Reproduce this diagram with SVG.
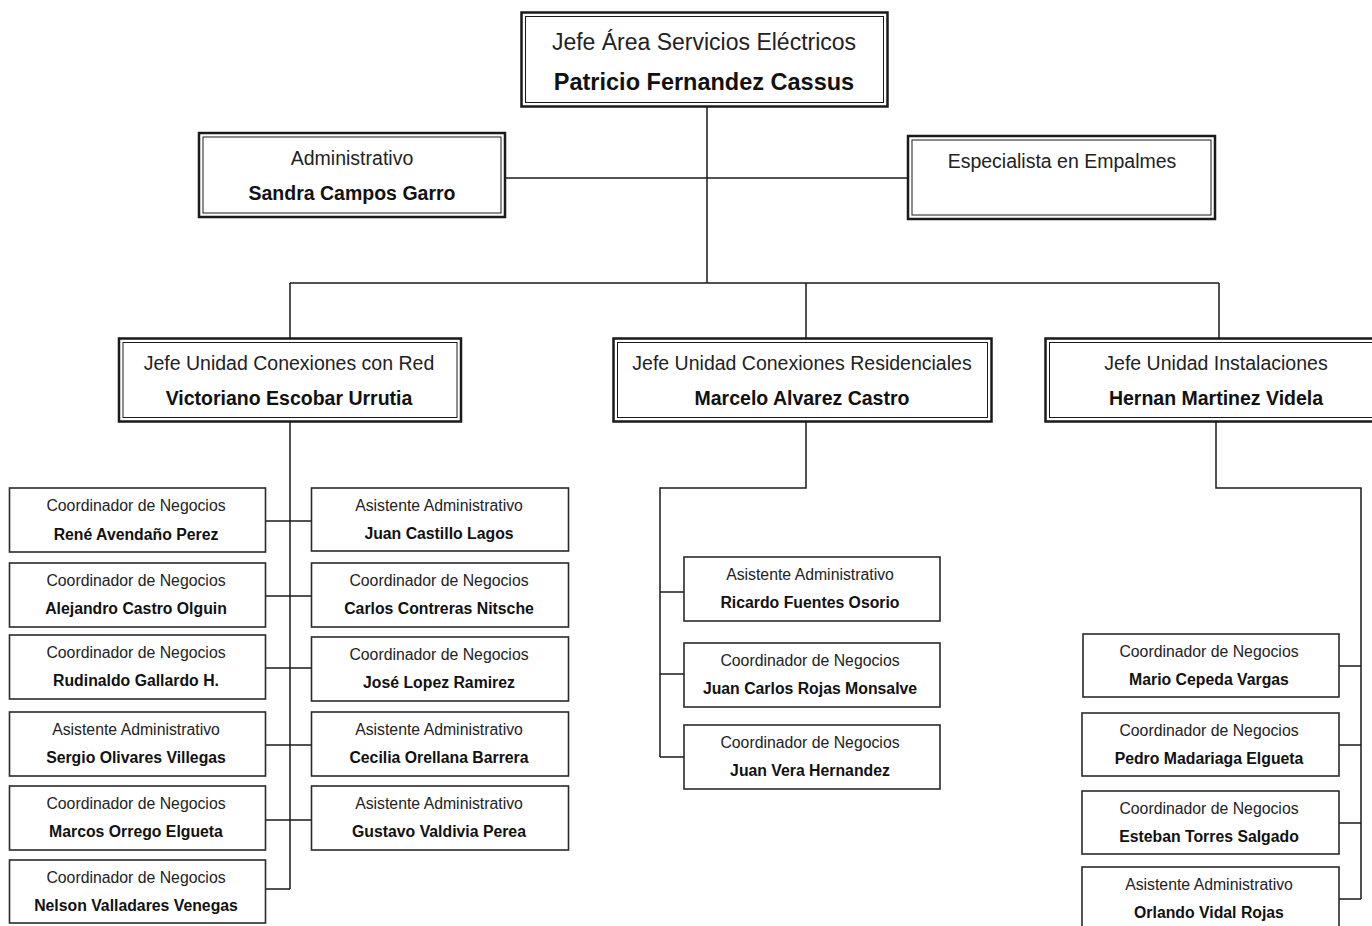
<svg xmlns="http://www.w3.org/2000/svg" width="1372" height="926" viewBox="0 0 1372 926">
<style>
.bg{fill:#ffffff}
.ob{fill:#ffffff;stroke:#1a1a1a;stroke-width:2.5}
.ib{fill:none;stroke:#1a1a1a;stroke-width:1}
.sb{fill:#ffffff;stroke:#2a2a2a;stroke-width:1.6}
.ln{fill:none;stroke:#1a1a1a;stroke-width:1.5}
text{font-family:"Liberation Sans",Arial,sans-serif;text-anchor:middle;fill:#111}
.t1{font-size:23px;fill:#222}
.n1{font-size:23.5px;font-weight:bold}
.t2{font-size:19.5px;fill:#222}
.n2{font-size:19.5px;font-weight:bold}
.t3{font-size:15.8px;fill:#222}
.n3{font-size:15.8px;font-weight:bold}
</style>
<rect class="bg" x="0" y="0" width="1372" height="926"/>
<g id="connectors">
<path class="ln" d="M707 107V283"/>
<path class="ln" d="M505 178H908"/>
<path class="ln" d="M290 283H1219M290 283V338M806 283V338M1219 283V338"/>
<path class="ln" d="M290 421V889"/>
<path class="ln" d="M265 521H311M265 596H311M265 668H311M265 745H311M265 820H311M265 889H290"/>
<path class="ln" d="M806 421V488H660V757"/>
<path class="ln" d="M660 592H684M660 674H684M660 757H684"/>
<path class="ln" d="M1216 421V488H1361V899"/>
<path class="ln" d="M1339 666H1361M1339 745H1361M1339 823H1361M1339 899H1361"/>
</g>
<g id="jefe-area">
<rect class="ob" x="521.5" y="12.5" width="366" height="94"/>
<rect class="ib" x="525.5" y="16.5" width="358" height="86"/>
<text class="t1" x="704" y="50">Jefe Área Servicios Eléctricos</text>
<text class="n1" x="704" y="90">Patricio Fernandez Cassus</text>
</g>
<g id="administrativo">
<rect class="ob" x="199" y="133" width="306" height="84"/>
<rect class="ib" x="203" y="137" width="298" height="76"/>
<text class="t2" x="352" y="165">Administrativo</text>
<text class="n2" x="352" y="200">Sandra Campos Garro</text>
</g>
<g id="especialista">
<rect class="ob" x="908" y="136" width="307" height="83"/>
<rect class="ib" x="912" y="140" width="299" height="75"/>
<text class="t2" x="1062" y="168">Especialista en Empalmes</text>
</g>
<g id="jefe-conexiones-red">
<rect class="ob" x="119" y="338.5" width="342" height="83"/>
<rect class="ib" x="123" y="342.5" width="334" height="75"/>
<text class="t2" x="289" y="370">Jefe Unidad Conexiones con Red</text>
<text class="n2" x="289" y="405">Victoriano Escobar Urrutia</text>
</g>
<g id="jefe-conexiones-residenciales">
<rect class="ob" x="613.5" y="338.5" width="378" height="83"/>
<rect class="ib" x="617.5" y="342.5" width="370" height="75"/>
<text class="t2" x="802" y="370">Jefe Unidad Conexiones Residenciales</text>
<text class="n2" x="802" y="405">Marcelo Alvarez Castro</text>
</g>
<g id="jefe-instalaciones">
<rect class="ob" x="1045.5" y="338.5" width="342" height="83"/>
<rect class="ib" x="1049.5" y="342.5" width="334" height="75"/>
<text class="t2" x="1216" y="370">Jefe Unidad Instalaciones</text>
<text class="n2" x="1216" y="405">Hernan Martinez Videla</text>
</g>
<g id="rene-avendano">
<rect class="sb" x="9.5" y="488" width="256" height="64"/>
<text class="t3" x="136" y="511">Coordinador de Negocios</text>
<text class="n3" x="136" y="540">René Avendaño Perez</text>
</g>
<g id="alejandro-castro">
<rect class="sb" x="9.5" y="563" width="256" height="64"/>
<text class="t3" x="136" y="586">Coordinador de Negocios</text>
<text class="n3" x="136" y="614">Alejandro Castro Olguin</text>
</g>
<g id="rudinaldo-gallardo">
<rect class="sb" x="9.5" y="635" width="256" height="64"/>
<text class="t3" x="136" y="658">Coordinador de Negocios</text>
<text class="n3" x="136" y="686">Rudinaldo Gallardo H.</text>
</g>
<g id="sergio-olivares">
<rect class="sb" x="9.5" y="712" width="256" height="64"/>
<text class="t3" x="136" y="735">Asistente Administrativo</text>
<text class="n3" x="136" y="763">Sergio Olivares Villegas</text>
</g>
<g id="marcos-orrego">
<rect class="sb" x="9.5" y="786" width="256" height="64"/>
<text class="t3" x="136" y="809">Coordinador de Negocios</text>
<text class="n3" x="136" y="837">Marcos Orrego Elgueta</text>
</g>
<g id="nelson-valladares">
<rect class="sb" x="9.5" y="860" width="256" height="63"/>
<text class="t3" x="136" y="883">Coordinador de Negocios</text>
<text class="n3" x="136" y="911">Nelson Valladares Venegas</text>
</g>
<g id="juan-castillo">
<rect class="sb" x="311.5" y="488" width="257" height="63"/>
<text class="t3" x="439" y="511">Asistente Administrativo</text>
<text class="n3" x="439" y="539">Juan Castillo Lagos</text>
</g>
<g id="carlos-contreras">
<rect class="sb" x="311.5" y="563" width="257" height="64"/>
<text class="t3" x="439" y="586">Coordinador de Negocios</text>
<text class="n3" x="439" y="614">Carlos Contreras Nitsche</text>
</g>
<g id="jose-lopez">
<rect class="sb" x="311.5" y="637" width="257" height="64"/>
<text class="t3" x="439" y="660">Coordinador de Negocios</text>
<text class="n3" x="439" y="688">José Lopez Ramirez</text>
</g>
<g id="cecilia-orellana">
<rect class="sb" x="311.5" y="712" width="257" height="64"/>
<text class="t3" x="439" y="735">Asistente Administrativo</text>
<text class="n3" x="439" y="763">Cecilia Orellana Barrera</text>
</g>
<g id="gustavo-valdivia">
<rect class="sb" x="311.5" y="786" width="257" height="64"/>
<text class="t3" x="439" y="809">Asistente Administrativo</text>
<text class="n3" x="439" y="837">Gustavo Valdivia Perea</text>
</g>
<g id="ricardo-fuentes">
<rect class="sb" x="684" y="557" width="256" height="64"/>
<text class="t3" x="810" y="580">Asistente Administrativo</text>
<text class="n3" x="810" y="608">Ricardo Fuentes Osorio</text>
</g>
<g id="juan-carlos-rojas">
<rect class="sb" x="684" y="643" width="256" height="64"/>
<text class="t3" x="810" y="666">Coordinador de Negocios</text>
<text class="n3" x="810" y="694">Juan Carlos Rojas Monsalve</text>
</g>
<g id="juan-vera">
<rect class="sb" x="684" y="725" width="256" height="64"/>
<text class="t3" x="810" y="748">Coordinador de Negocios</text>
<text class="n3" x="810" y="776">Juan Vera Hernandez</text>
</g>
<g id="mario-cepeda">
<rect class="sb" x="1083" y="634" width="256" height="63"/>
<text class="t3" x="1209" y="657">Coordinador de Negocios</text>
<text class="n3" x="1209" y="685">Mario Cepeda Vargas</text>
</g>
<g id="pedro-madariaga">
<rect class="sb" x="1082" y="713" width="257" height="63"/>
<text class="t3" x="1209" y="736">Coordinador de Negocios</text>
<text class="n3" x="1209" y="764">Pedro Madariaga Elgueta</text>
</g>
<g id="esteban-torres">
<rect class="sb" x="1082" y="791" width="257" height="63"/>
<text class="t3" x="1209" y="814">Coordinador de Negocios</text>
<text class="n3" x="1209" y="842">Esteban Torres Salgado</text>
</g>
<g id="orlando-vidal">
<rect class="sb" x="1082" y="867" width="257" height="64"/>
<text class="t3" x="1209" y="890">Asistente Administrativo</text>
<text class="n3" x="1209" y="918">Orlando Vidal Rojas</text>
</g>
</svg>
